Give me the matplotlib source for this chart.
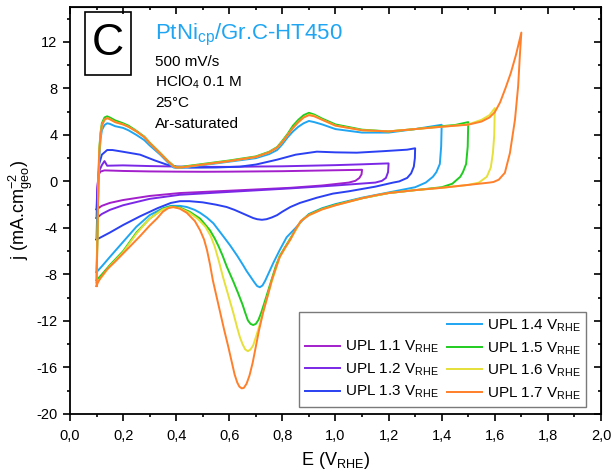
import numpy as np
import matplotlib
matplotlib.use('Agg')
import matplotlib.pyplot as plt
from matplotlib.ticker import MultipleLocator, FuncFormatter
from matplotlib.patches import Rectangle
from matplotlib.lines import Line2D

plt.rcParams['font.family'] = ['Liberation Sans', 'DejaVu Sans']
plt.rcParams['mathtext.fontset'] = 'custom'
plt.rcParams['mathtext.rm'] = 'Liberation Sans'
plt.rcParams['mathtext.it'] = 'Liberation Sans:italic'
plt.rcParams['mathtext.default'] = 'regular'
plt.rcParams['axes.unicode_minus'] = False

# CV loops, anodic (up) then cathodic (dn) scan, E in V_RHE, j in mA/cm2
e11_up = [0.100, 0.103, 0.108, 0.115, 0.130, 0.200, 0.300, 0.400, 0.500, 0.600, 0.700, 0.800, 0.900, 1.000, 1.100]
j11_up = [-2.4, -0.5, 0.6, 0.85, 0.95, 0.9, 0.86, 0.84, 0.83, 0.84, 0.86, 0.88, 0.92, 0.96, 1.0]
e11_dn = [1.100, 1.098, 1.090, 1.075, 1.050, 0.950, 0.830, 0.600, 0.414, 0.300, 0.200, 0.150, 0.120, 0.100]
j11_dn = [1.0, 0.6, 0.3, 0.05, -0.1, -0.35, -0.55, -0.8, -1.0, -1.25, -1.6, -1.85, -2.1, -2.4]

e12_up = [0.100, 0.103, 0.108, 0.120, 0.130, 0.140, 0.200, 0.300, 0.400, 0.500, 0.600, 0.700, 0.800, 0.900, 1.000, 1.100, 1.200]
j12_up = [-3.15, -0.8, 0.8, 1.4, 1.75, 1.35, 1.38, 1.32, 1.28, 1.25, 1.25, 1.28, 1.3, 1.35, 1.4, 1.47, 1.55]
e12_dn = [1.200, 1.198, 1.190, 1.175, 1.150, 1.000, 0.830, 0.600, 0.414, 0.300, 0.200, 0.150, 0.120, 0.100]
j12_dn = [1.55, 0.8, 0.3, 0.05, -0.1, -0.35, -0.6, -0.9, -1.15, -1.5, -2.05, -2.45, -2.8, -3.15]

e13_up = [0.100, 0.104, 0.110, 0.120, 0.140, 0.160, 0.200, 0.264, 0.320, 0.365, 0.400, 0.452, 0.550, 0.640, 0.700, 0.780,
          0.850, 0.930, 1.000, 1.080, 1.180, 1.270, 1.300]
j13_up = [-5.0, -1.0, 1.5, 2.3, 2.7, 2.7, 2.55, 2.3, 1.8, 1.44, 1.25, 1.18, 1.2, 1.27, 1.45, 1.87,
          2.3, 2.56, 2.5, 2.47, 2.6, 2.73, 2.85]
e13_dn = [1.300, 1.299, 1.295, 1.285, 1.270, 1.240, 1.217, 1.150, 1.050, 0.990, 0.930, 0.866, 0.830, 0.800, 0.780,
          0.760, 0.740, 0.723, 0.705, 0.690, 0.670, 0.650, 0.620, 0.590, 0.550, 0.500, 0.450, 0.414, 0.380, 0.330,
          0.264, 0.200, 0.150, 0.100]
j13_dn = [2.85, 2.0, 1.27, 0.7, 0.3, 0.0, -0.1, -0.45, -0.85, -1.05, -1.4, -1.85, -2.2, -2.6, -2.9,
          -3.1, -3.25, -3.3, -3.25, -3.15, -2.95, -2.75, -2.45, -2.2, -2.0, -1.8, -1.7, -1.7, -1.85, -2.3,
          -3.0, -3.75, -4.4, -5.0]

# anodic potentials shared by the UPL 1.4 - 1.7 loops up to 1.4 V
e_up = [0.100, 0.104, 0.107, 0.110, 0.115, 0.120, 0.130, 0.140, 0.150, 0.170, 0.200, 0.220, 0.250, 0.280, 0.300,
        0.340, 0.370, 0.390, 0.400, 0.420, 0.450, 0.500, 0.600, 0.700, 0.750, 0.780, 0.800, 0.820, 0.840, 0.860,
        0.880, 0.900, 0.920, 0.950, 1.000, 1.100, 1.200, 1.300, 1.400]

j14_up = [-7.8, -3.5, 0.0, 2.0, 3.6, 4.4, 4.85, 5.0, 4.95, 4.75, 4.6, 4.4, 4.0, 3.55, 3.1,
          2.3, 1.6, 1.2, 1.15, 1.15, 1.25, 1.4, 1.7, 2.0, 2.35, 2.7, 3.2, 3.8, 4.3, 4.7,
          5.0, 5.2, 5.1, 4.9, 4.5, 4.2, 4.2, 4.5, 4.87]
e14_dn = [1.400, 1.398, 1.393, 1.380, 1.367, 1.340, 1.300, 1.200, 1.100, 1.000, 0.950, 0.900, 0.877, 0.850, 0.816,
          0.790, 0.766, 0.750, 0.735, 0.725, 0.715, 0.705, 0.695, 0.680, 0.665, 0.652, 0.630, 0.603, 0.580, 0.560,
          0.540, 0.515, 0.490, 0.470, 0.440, 0.414, 0.380, 0.350, 0.300, 0.250, 0.200, 0.150, 0.120, 0.100]
j14_dn = [4.87, 3.0, 1.5, 0.8, 0.4, -0.1, -0.5, -0.95, -1.4, -1.95, -2.3, -2.8, -3.3, -4.0, -4.8,
          -5.9, -7.0, -7.8, -8.55, -8.95, -9.1, -9.0, -8.7, -8.2, -7.7, -7.2, -6.4, -5.5, -4.8, -4.2,
          -3.6, -3.1, -2.7, -2.45, -2.2, -2.1, -2.1, -2.3, -2.9, -3.9, -5.2, -6.5, -7.3, -7.8]

e15_hi = [1.450, 1.500]
j15_up = [-8.5, -3.8, 0.2, 2.7, 4.2, 5.0, 5.5, 5.6, 5.5, 5.25, 5.0, 4.8, 4.35, 3.85, 3.35,
          2.45, 1.75, 1.35, 1.25, 1.25, 1.35, 1.5, 1.8, 2.15, 2.55, 2.95, 3.5, 4.1, 4.8, 5.3,
          5.7, 5.9, 5.75, 5.4, 4.9, 4.45, 4.3, 4.5, 4.75, 4.85, 5.1]
e15_dn = [1.500, 1.498, 1.492, 1.480, 1.470, 1.440, 1.400, 1.300, 1.200, 1.100, 1.000, 0.950, 0.900, 0.870, 0.830,
          0.790, 0.775, 0.760, 0.745, 0.730, 0.720, 0.710, 0.700, 0.690, 0.680, 0.670, 0.660, 0.650, 0.633, 0.615,
          0.590, 0.575, 0.560, 0.545, 0.527, 0.505, 0.490, 0.450, 0.414, 0.380, 0.350, 0.300, 0.250, 0.200, 0.150,
          0.120, 0.100]
j15_dn = [5.1, 3.0, 1.5, 0.8, 0.4, -0.2, -0.5, -0.75, -1.0, -1.45, -2.0, -2.35, -2.85, -3.4, -4.9,
          -6.4, -7.3, -8.4, -9.5, -10.6, -11.3, -11.9, -12.25, -12.35, -12.25, -11.95, -11.3, -10.6, -9.6, -8.6,
          -7.3, -6.4, -5.6, -4.9, -4.2, -3.6, -3.2, -2.6, -2.25, -2.15, -2.35, -3.2, -4.4, -6.0, -7.2,
          -8.0, -8.5]

e16_hi = [1.500, 1.550, 1.580, 1.600]
j16_up = [-8.7, -4.0, 0.0, 2.5, 4.0, 4.8, 5.3, 5.45, 5.35, 5.1, 4.9, 4.7, 4.3, 3.8, 3.3,
          2.4, 1.7, 1.3, 1.2, 1.2, 1.3, 1.45, 1.75, 2.1, 2.5, 2.9, 3.4, 4.0, 4.6, 5.1,
          5.5, 5.75, 5.65, 5.3, 4.8, 4.4, 4.3, 4.5, 4.7, 4.9, 5.3, 5.7, 6.3]
e16_dn = [1.600, 1.598, 1.593, 1.585, 1.570, 1.540, 1.500, 1.400, 1.300, 1.200, 1.100, 1.000, 0.950, 0.900, 0.870,
          0.830, 0.790, 0.760, 0.730, 0.715, 0.700, 0.690, 0.680, 0.670, 0.660, 0.650, 0.640, 0.630, 0.615, 0.595,
          0.576, 0.560, 0.545, 0.530, 0.510, 0.480, 0.450, 0.414, 0.380, 0.350, 0.300, 0.250, 0.200, 0.150, 0.120,
          0.100]
j16_dn = [6.3, 4.0, 2.47, 1.2, 0.4, -0.1, -0.3, -0.55, -0.75, -1.0, -1.45, -2.05, -2.4, -2.9, -3.4,
          -5.0, -6.5, -8.6, -11.0, -12.3, -13.4, -14.1, -14.45, -14.6, -14.45, -14.0, -13.4, -12.6, -11.3, -9.7,
          -8.2, -6.8, -5.6, -4.7, -3.9, -3.2, -2.7, -2.3, -2.2, -2.4, -3.2, -4.5, -6.1, -7.3, -8.2,
          -8.7]

e17_hi = [1.500, 1.550, 1.580, 1.600, 1.620, 1.640, 1.660, 1.680, 1.700]
j17_up = [-9.0, -4.0, 0.0, 2.5, 4.0, 4.8, 5.3, 5.45, 5.35, 5.1, 4.9, 4.7, 4.3, 3.8, 3.3,
          2.4, 1.7, 1.3, 1.2, 1.2, 1.3, 1.45, 1.75, 2.1, 2.5, 2.9, 3.4, 4.0, 4.6, 5.1,
          5.5, 5.7, 5.6, 5.3, 4.8, 4.4, 4.3, 4.5, 4.7, 4.88, 5.15, 5.5, 5.95, 6.8, 8.0,
          9.3, 10.9, 12.8]
e17_dn = [1.700, 1.695, 1.688, 1.676, 1.657, 1.638, 1.615, 1.595, 1.580, 1.500, 1.400, 1.300, 1.200, 1.150, 1.100,
          1.050, 1.000, 0.950, 0.900, 0.870, 0.850, 0.830, 0.810, 0.790, 0.776, 0.760, 0.745, 0.727, 0.712, 0.700,
          0.688, 0.676, 0.665, 0.655, 0.647, 0.638, 0.630, 0.620, 0.610, 0.596, 0.580, 0.566, 0.552, 0.538, 0.527,
          0.516, 0.505, 0.490, 0.470, 0.440, 0.414, 0.390, 0.370, 0.350, 0.327, 0.300, 0.264, 0.230, 0.200, 0.170,
          0.138, 0.115, 0.105, 0.100]
j17_dn = [12.8, 11.05, 8.2, 5.3, 2.44, 0.74, 0.15, -0.05, -0.1, -0.3, -0.55, -0.75, -1.0, -1.2, -1.45,
          -1.75, -2.05, -2.4, -2.9, -3.4, -4.1, -5.0, -5.7, -6.5, -7.4, -8.5, -9.8, -11.3, -12.8, -14.2,
          -15.6, -16.7, -17.4, -17.75, -17.8, -17.65, -17.3, -16.6, -15.6, -14.2, -12.7, -11.3, -9.9, -8.5, -7.1,
          -5.9, -5.0, -4.2, -3.4, -2.7, -2.35, -2.2, -2.3, -2.6, -3.2, -3.8, -4.7, -5.5, -6.2, -6.9,
          -7.6, -8.3, -8.7, -9.0]

loops = [
    ('1.1', e11_up, j11_up, e11_dn, j11_dn, '#a21fcb'),
    ('1.2', e12_up, j12_up, e12_dn, j12_dn, '#7b28e6'),
    ('1.3', e13_up, j13_up, e13_dn, j13_dn, '#2b40f2'),
    ('1.4', e_up, j14_up, e14_dn, j14_dn, '#1fa5f2'),
    ('1.5', e_up + e15_hi, j15_up, e15_dn, j15_dn, '#1fcc1f'),
    ('1.6', e_up + e16_hi, j16_up, e16_dn, j16_dn, '#e6e03a'),
    ('1.7', e_up + e17_hi, j17_up, e17_dn, j17_dn, '#ff7f2a'),
]

fig = plt.figure(figsize=(6.13, 4.76), dpi=100)
ax = fig.add_axes([0.1142, 0.1303, 0.8662, 0.855])

handles = [Line2D([], [], color='none', label=' ')]
for upl, eu, ju, ed, jd, col in loops:
    E = np.r_[eu, ed]
    j = np.r_[ju, jd]
    ln, = ax.plot(E, j, color=col, lw=1.4, label='UPL ' + upl + r' V$_{RHE}$')
    handles.append(ln)

ax.set_xlim(0, 2.0)
ax.set_ylim(-20, 15)
ax.xaxis.set_major_locator(MultipleLocator(0.2))
ax.xaxis.set_minor_locator(MultipleLocator(0.1))
ax.yaxis.set_minor_locator(MultipleLocator(2))
ax.set_yticks(np.arange(-20, 13, 4))
ax.xaxis.set_major_formatter(FuncFormatter(lambda v, p: f'{v:.1f}'.replace('.', ',')))
ax.tick_params(which='major', direction='out', length=5, width=1.2, labelsize=10.5, pad=4)
ax.tick_params(which='minor', direction='out', length=2.5, width=1.2)
ax.tick_params(axis='x', which='major', pad=6)
for s in ax.spines.values():
    s.set_linewidth(1.3)

top = ax.secondary_xaxis('top')
top.xaxis.set_major_locator(MultipleLocator(0.2))
top.xaxis.set_minor_locator(MultipleLocator(0.1))
top.tick_params(which='major', direction='in', length=5, width=1.2, labeltop=False)
top.tick_params(which='minor', direction='in', length=2.5, width=1.2)
right = ax.secondary_yaxis('right')
right.yaxis.set_major_locator(MultipleLocator(4))
right.yaxis.set_minor_locator(MultipleLocator(2))
right.tick_params(which='major', direction='in', length=5, width=1.2, labelright=False)
right.tick_params(which='minor', direction='in', length=2.5, width=1.2)

ax.set_xlabel(r'E (V$_{RHE}$)', fontsize=13, labelpad=5)
ax.set_ylabel(r'j (mA.cm$^{-2}_{geo}$)', fontsize=13, labelpad=1)

ax.add_patch(Rectangle((0.0282, 0.833), 0.0866, 0.1555, transform=ax.transAxes,
                       fill=False, lw=1.2, ec='black'))
ax.text(0.0716, 0.9115, 'C', transform=ax.transAxes, fontsize=32, ha='center', va='center')
ax.text(0.160, 0.921, r'PtNi$_{cp}$/Gr.C-HT450', transform=ax.transAxes, fontsize=16,
        color='#1fa5f2', va='baseline')
info = ['500 mV/s', r'HClO$_4$ 0.1 M', '25°C', 'Ar-saturated']
for k, t in enumerate(info):
    ax.text(0.160, 0.855 - k * 0.0505, t, transform=ax.transAxes, fontsize=11, va='baseline')

leg = ax.legend(handles=handles, ncol=2, loc='lower right', bbox_to_anchor=(0.972, 0.017),
                borderaxespad=0, fontsize=11, frameon=True, fancybox=False, edgecolor='0.35',
                handlelength=2.3, handletextpad=0.35, columnspacing=0.5, labelspacing=0.4,
                borderpad=0.35)
leg.get_frame().set_linewidth(1.0)

fig.savefig('out.png', dpi=100)
